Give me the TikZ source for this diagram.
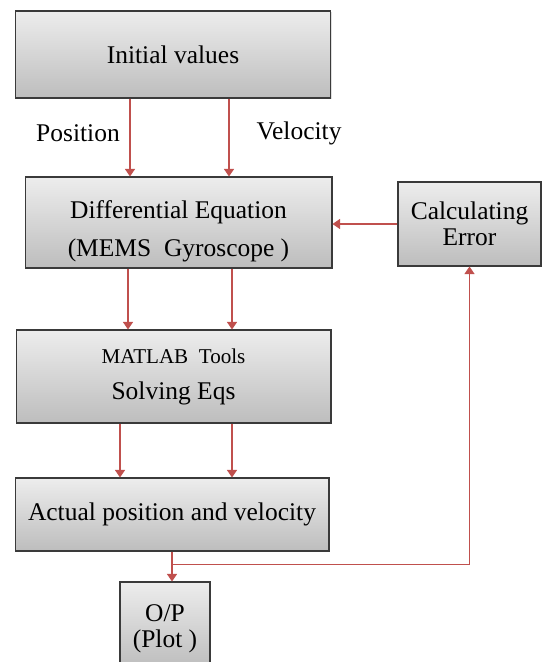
\documentclass[tikz,border=0pt]{standalone}
\usepackage{fontspec}
\setmainfont{Liberation Serif}
\usetikzlibrary{arrows.meta, positioning, shadows}
\definecolor{ArrowRed}{HTML}{C0504D}
\definecolor{BoxTop}{HTML}{EDEDED}
\definecolor{BoxBottom}{HTML}{BDBDBD}
\definecolor{BoxLine}{HTML}{3A3A3A}

\begin{document}
\begin{tikzpicture}[
    x=0.02cm, y=-0.02cm, font=\fontsize{14.5}{15}\selectfont,
    block/.style={draw=BoxLine, line width=0.6pt, top color=BoxTop, bottom color=BoxBottom,
                  align=center, inner sep=0pt,
                  drop shadow={shadow xshift=0.7pt, shadow yshift=-0.7pt, opacity=0.25}},
    inlbl/.style={align=center, inner sep=0pt},
    link/.style={-{Triangle[length=1.5mm, width=2mm]}, ArrowRed, line width=0.6pt},
  ]
    \useasboundingbox (0,0) rectangle (542,662);
    \clip (0,0) rectangle (542,662);
    % ---- blocks ----
    \node[block, minimum width=6.31cm, minimum height=1.74cm] (init) at (173,54.5) {Initial values};
    \node[block, minimum width=6.14cm, minimum height=1.82cm,
          label={[inlbl, yshift=-5pt, font=\fontsize{14.5}{21.6}\selectfont]center:
                 Differential Equation\\(MEMS~~Gyroscope~)}] (diff) at (178.5,222.5) {};
    \node[block, minimum width=2.86cm, minimum height=1.68cm] (calc) at (469.5,224) {Calculating\\Error};
    \node[block, minimum width=6.3cm, minimum height=1.86cm,
          font=\fontsize{14.5}{20.5}\selectfont] (tools) at (173.5,376.5)
          {{\fontsize{12}{14}\selectfont MATLAB~~Tools}\\Solving Eqs};
    \node[block, minimum width=6.28cm, minimum height=1.46cm] (actual) at (172,514.5) {Actual position and velocity};
    \node[block, minimum width=1.8cm, minimum height=1.72cm,
          label={[inlbl, yshift=-2.3pt]center:O/P\\(Plot~)}] (plot) at (165,625) {};
    % ---- labels ----
    \node (pos) at (78,133)  {Position};
    \node (vel) at (299,133) {Velocity};
    % ---- columns ----
    \coordinate (a1) at (130,0);
    \coordinate (a2) at (229,0);
    \coordinate (b1) at (128,0);
    \coordinate (b2) at (232,0);
    \coordinate (c1) at (120,0);
    \coordinate (fb) at (0,564);
    % ---- connectors ----
    \draw[link] (init.south -| a1)  -- (diff.north -| a1);
    \draw[link] (init.south -| a2)  -- (diff.north -| a2);
    \draw[link] (diff.south -| b1)  -- (tools.north -| b1);
    \draw[link] (diff.south -| b2)  -- (tools.north -| b2);
    \draw[link] (tools.south -| c1) -- (actual.north -| c1);
    \draw[link] (tools.south -| b2) -- (actual.north -| b2);
    \draw[link] (calc.west) -- (calc.west -| diff.east);
    \draw[link] (actual.south) -- (actual.south |- plot.north);
    % ---- feedback ----
    \draw[link, line width=0.5pt] (actual.south |- fb) -| (calc.south);
\end{tikzpicture}
\end{document}
